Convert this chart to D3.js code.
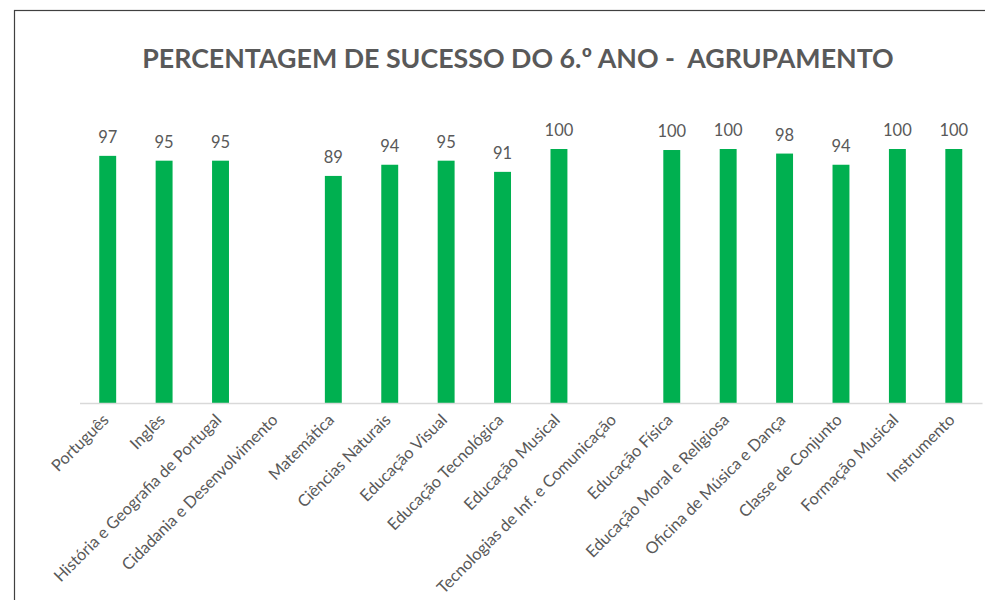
<!DOCTYPE html>
<html>
<head>
<meta charset="utf-8">
<script src="https://cdn.jsdelivr.net/npm/d3@7"></script>
<style>
    body { margin: 0; background: #fff; }
    #chart-area { width: 985px; height: 600px; }
    text { font-family: Lato, "Open Sans", sans-serif; fill: #595959; }
</style>
</head>
<body>
<div id="chart-area"></div>
<script>

// subjects of the 6th year, in chart order
const subjects = [
    "Português", "Inglês", "História e Geografia de Portugal", "Cidadania e Desenvolvimento",
    "Matemática", "Ciências Naturais", "Educação Visual", "Educação Tecnológica",
    "Educação Musical", "Tecnologias de Inf. e Comunicação", "Educação Física",
    "Educação Moral e Religiosa", "Oficina de Música e Dança", "Classe de Conjunto",
    "Formação Musical", "Instrumento"
];

// success rate (%), null where there is no bar
const successRates = [97.3, 95.4, 95.4, null, 89.4, 93.8, 95.4, 91.0, 100, null, 99.6, 100, 98.2, 93.8, 100, 100];

const yDomain = [0, 100];

const chartTitle = "PERCENTAGEM DE SUCESSO DO 6.º ANO -  AGRUPAMENTO";


class BarVis {

    constructor(parentElement, categories, values) {
        this.parentElement = parentElement;
        this.data = categories.map((c, i) => ({subject: c, value: values[i]}));
        this.initVis();
    }

    initVis() {
        let vis = this;

        vis.outerWidth = 985;
        vis.outerHeight = 600;
        vis.margin = {top: 149, right: 3, bottom: 197, left: 79.5};
        vis.width = vis.outerWidth - vis.margin.left - vis.margin.right;
        vis.height = vis.outerHeight - vis.margin.top - vis.margin.bottom;

        vis.root = d3.select("#" + vis.parentElement).append("svg")
            .attr("width", vis.outerWidth)
            .attr("height", vis.outerHeight);

        // chart frame (cropped on the right and bottom)
        vis.root.append("rect")
            .attr("x", 14.5)
            .attr("y", 10.5)
            .attr("width", 1000)
            .attr("height", 700)
            .attr("fill", "none")
            .attr("stroke", "#404040")
            .attr("stroke-width", 1.2);

        // title, fitted to the width it has in the original
        vis.title = vis.root.append("text")
            .attr("x", 518)
            .attr("y", 68)
            .attr("text-anchor", "middle")
            .attr("font-weight", "bold")
            .attr("font-size", 28)
            .style("white-space", "pre")
            .text(chartTitle);
        let tw = vis.title.node().getComputedTextLength();
        vis.title.attr("font-size", 28 * 752 / tw);

        vis.svg = vis.root.append("g")
            .attr("transform", "translate(" + vis.margin.left + "," + vis.margin.top + ")");

        vis.x = d3.scaleBand()
            .domain(vis.data.map(d => d.subject))
            .range([0, vis.width])
            .paddingInner(0.7)
            .paddingOuter(0.35);

        vis.y = d3.scaleLinear()
            .domain(yDomain)
            .range([vis.height, 0]);

        vis.wrangleData();
    }

    wrangleData() {
        let vis = this;
        vis.barData = vis.data.filter(d => d.value !== null);
        vis.updateVis();
    }

    updateVis() {
        let vis = this;

        // bars
        vis.svg.selectAll(".bar")
            .data(vis.barData)
            .enter().append("rect")
            .attr("class", "bar")
            .attr("x", d => vis.x(d.subject))
            .attr("width", vis.x.bandwidth())
            .attr("y", d => vis.y(d.value))
            .attr("height", d => vis.y(0) - vis.y(d.value))
            .attr("fill", "#00b050");

        // value labels
        vis.svg.selectAll(".value-label")
            .data(vis.barData)
            .enter().append("text")
            .attr("class", "value-label")
            .attr("x", d => vis.x(d.subject) + vis.x.bandwidth() / 2)
            .attr("y", d => vis.y(d.value) - 13)
            .attr("text-anchor", "middle")
            .attr("font-size", 16.5)
            .text(d => d3.format(".0f")(d.value));

        // category axis
        vis.xAxis = d3.axisBottom(vis.x).tickSize(0).tickPadding(0);

        let axisG = vis.svg.append("g")
            .attr("class", "x-axis")
            .attr("transform", "translate(0," + vis.height + ")")
            .call(vis.xAxis);

        axisG.select(".domain")
            .attr("stroke", "#d9d9d9")
            .attr("stroke-width", 1.3);

        let labels = axisG.selectAll(".tick text")
            .attr("fill", "#595959")
            .attr("font-family", "Lato, 'Open Sans', sans-serif")
            .attr("font-size", 15)
            .attr("dy", 0)
            .attr("y", 0)
            .attr("text-anchor", "end")
            .attr("transform", "translate(2,18) rotate(-45)");

        // fit label size so the labels match the original length
        let longest = labels.filter(d => d === "História e Geografia de Portugal");
        let lw = longest.node().getComputedTextLength();
        labels.attr("font-size", 15 * 229 / lw);
    }
}

new BarVis("chart-area", subjects, successRates);

</script>
</body>
</html>
